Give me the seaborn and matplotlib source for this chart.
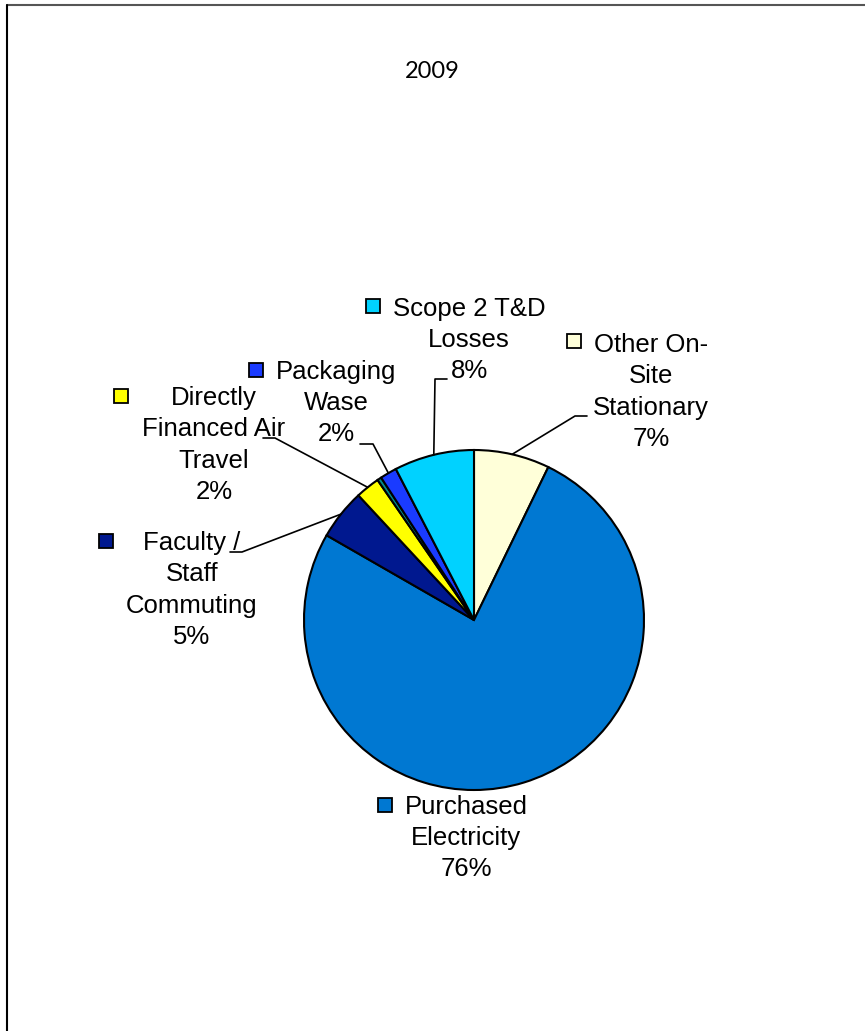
import numpy as np
import seaborn as sns
import matplotlib
matplotlib.use("Agg")
import matplotlib.pyplot as plt
from matplotlib.patches import Rectangle

# data, clockwise from 12 o'clock
kategorije = ["Other On-Site Stationary", "Purchased Electricity", "Faculty / Staff Commuting",
              "Directly Financed Air Travel", "Unlabeled", "Packaging Wase", "Scope 2 T&D Losses"]
udjeli = [7.2, 76.1, 4.8, 2.3, 0.4, 1.6, 7.6]
procenti = ["7%", "76%", "5%", "2%", None, "2%", "8%"]
tekst = ["Other On-\nSite\nStationary", "Purchased\nElectricity", "Faculty /\nStaff\nCommuting",
         "Directly\nFinanced Air\nTravel", None, "Packaging\nWase", "Scope 2 T&D\nLosses"]
boje = ["#FFFFD9", "#0078D2", "#00188F", "#FFFF00", "#008B8B", "#1A3BFF", "#00D2FF"]

sns.set_style("white")
plt.rcParams['font.family'] = ['Liberation Sans', 'DejaVu Sans']

W, H = 865, 1031
fig = plt.figure(figsize=(W/100, H/100), dpi=100)
fig.patch.set_facecolor("white")

# pita: centar (474,620), radijus 170 px
cx, cy, r = 474, 620, 170
ax = fig.add_axes([(cx-r)/W, (H-cy-r)/H, 2*r/W, 2*r/H])
wedges, _ = ax.pie(udjeli, colors=boje, startangle=90, counterclock=False, radius=1,
                   wedgeprops=dict(edgecolor="black", linewidth=1.5))
ax.set_xlim(-1, 1)
ax.set_ylim(-1, 1)
ax.set_aspect("equal")
ax.axis("off")

# sloj za tekst u pikselima
ov = fig.add_axes([0, 0, 1, 1], zorder=5)
ov.set_xlim(0, W)
ov.set_ylim(H, 0)
ov.axis("off")

# pozicije labela: (centar teksta x, centar bloka y, kvadrat x, kvadrat y)
pozicije = [(651, 392, 574, 341), (466, 838, 385, 805), (192, 590, 106, 541),
            (214, 445, 121, 396), None, (336, 403, 256, 370), (469, 340, 373, 306)]
# vodice: pocetak horizontalnog dijela i tacka loma
vodice = [(587, 575, 416), None, (230, 242, 552), (263, 275, 438), None, (360, 373, 444), (447, 435, 379)]

for i, w in enumerate(wedges):
    if tekst[i] is None:
        continue
    tx, ty, kx, ky = pozicije[i]
    ov.text(tx, ty, tekst[i] + "\n" + procenti[i], ha="center", va="center",
            multialignment="center", fontsize=18.5, linespacing=1.38, color="black")
    ov.add_patch(Rectangle((kx-7, ky-7), 14, 14, facecolor=boje[i], edgecolor="black", linewidth=1.3))
    if vodice[i] is not None:
        x1, x2, yv = vodice[i]
        mid = np.deg2rad((w.theta1 + w.theta2) / 2)
        p = ax.transData.transform((np.cos(mid), np.sin(mid)))
        ex, ey = ov.transData.inverted().transform(p)
        ov.plot([x1, x2, ex], [yv, yv, ey], color="black", linewidth=1.2)

# naslov
fig.text(0.5, 1 - 72/H, "2009", ha="center", va="center", fontsize=17,
         family=["Lato", "DejaVu Sans"], color="black")

# okvir (gore i lijevo)
ov.plot([7, W], [5, 5], color="#555555", linewidth=1.5, clip_on=False)
ov.plot([7, 7], [5, H], color="black", linewidth=1.5, clip_on=False)

fig.savefig("out.png", dpi=100)
